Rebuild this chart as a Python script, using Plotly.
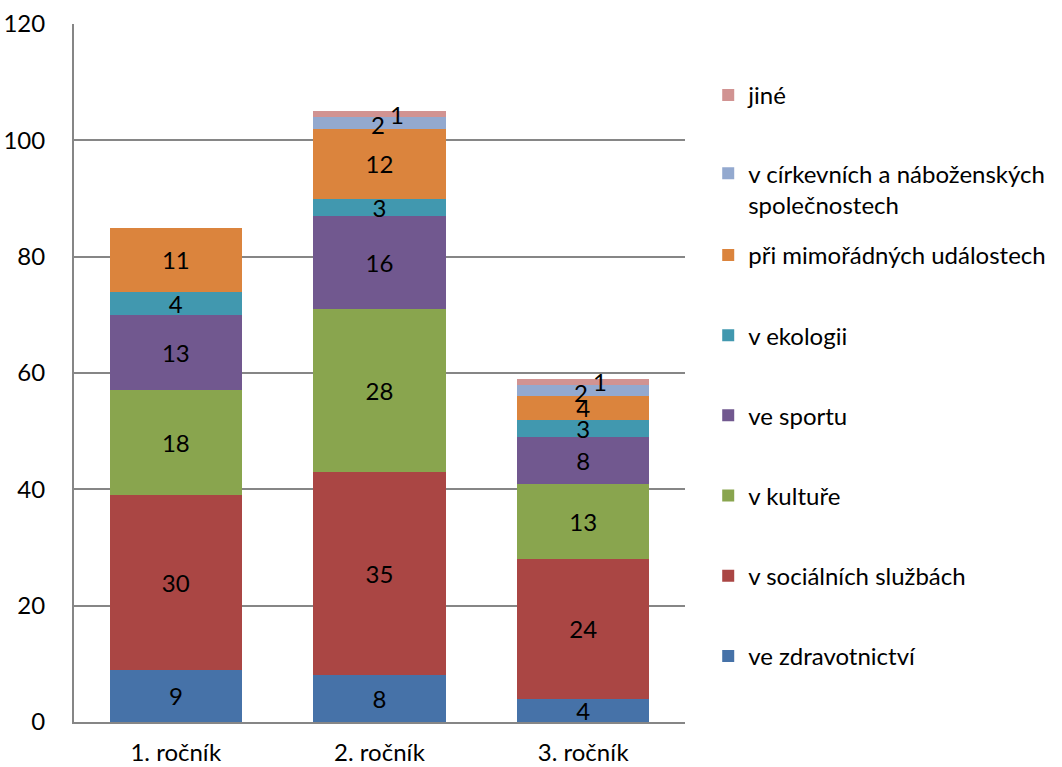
import plotly.graph_objects as go

categories = ["1. ročník", "2. ročník", "3. ročník"]
series_names = [
    "ve zdravotnictví",
    "v sociálních službách",
    "v kultuře",
    "ve sportu",
    "v ekologii",
    "při mimořádných událostech",
    "v církevních a náboženských<br>společnostech",
    "jiné",
]
zdravotnictvi = [9, 8, 4]
socialni = [30, 35, 24]
kultura = [18, 28, 13]
sport = [13, 16, 8]
ekologie = [4, 3, 3]
mimoradne = [11, 12, 4]
cirkev = [0, 2, 2]
jine = [0, 1, 1]
all_values = [zdravotnictvi, socialni, kultura, sport, ekologie, mimoradne, cirkev, jine]
colors = ["#4672A8", "#AA4644", "#89A54E", "#71588F", "#4198AF", "#DB843D", "#93A9CF", "#D19392"]
y_ticks = [0, 20, 40, 60, 80, 100, 120]

FONT = "Lato, Liberation Sans, sans-serif"
FS = 24
fig = go.Figure()
small = {6: (-2, -2), 7: (17, 0)}  # trace index -> (xshift, yshift) for tiny segments
annotations = []
cum = [0, 0, 0]
for i, (name, vals, col) in enumerate(zip(series_names, all_values, colors)):
    if i in small:
        txt = None
        for j, v in enumerate(vals):
            if v > 0:
                annotations.append(dict(
                    x=categories[j], y=cum[j] + v / 2, text=str(v), showarrow=False,
                    xshift=small[i][0], yshift=small[i][1],
                    font=dict(family=FONT, size=FS, color="black")))
    else:
        txt = [str(v) if v > 0 else "" for v in vals]
    fig.add_trace(go.Bar(
        x=categories, y=vals, name=name, marker=dict(color=col, line=dict(width=0)),
        text=txt, textposition="inside" if txt else "none", insidetextanchor="middle",
        constraintext="none", textangle=0,
        textfont=dict(family=FONT, size=FS, color="black"),
        legendgroup=f"g{i}", legendrank=1000 - i,
        legend="legend" if i >= 6 else "legend2",
    ))
    cum = [c + v for c, v in zip(cum, vals)]

legend_common = dict(
    x=1.038, xanchor="left", yanchor="top", traceorder="grouped", valign="top",
    font=dict(family=FONT, size=FS, color="black"), itemwidth=30,
    bgcolor="rgba(0,0,0,0)",
)
fig.update_layout(
    barmode="stack",
    bargap=0.35,
    width=1062, height=767,
    margin=dict(l=74, r=377, t=24, b=45, autoexpand=False),
    paper_bgcolor="white", plot_bgcolor="white",
    font=dict(family=FONT, size=FS, color="black"),
    annotations=annotations,
    legend=dict(legend_common, y=0.930, tracegroupgap=44),
    legend2=dict(legend_common, y=0.7008, tracegroupgap=46),
    xaxis=dict(showline=True, linecolor="#868686", linewidth=2, ticks="",
               automargin=False, ticklabelstandoff=8,
               tickfont=dict(family=FONT, size=FS)),
    yaxis=dict(range=[0, 120], tickvals=y_ticks, showgrid=True, gridcolor="#868686",
               gridwidth=2, showline=True, linecolor="#868686", linewidth=2,
               ticks="", ticklabelstandoff=22, zeroline=False, automargin=False,
               tickfont=dict(family=FONT, size=FS)),
)
fig.write_html("out.html", config={"displayModeBar": False},
               post_script="document.body.style.margin='0';document.body.style.overflow='hidden';")
